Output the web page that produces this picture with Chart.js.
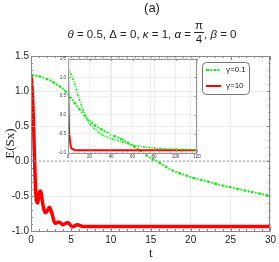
<!DOCTYPE html>
<html><head><meta charset="utf-8">
<script src="https://cdn.jsdelivr.net/npm/chart.js@4/dist/chart.umd.min.js"></script>
<style>
html,body{margin:0;padding:0;background:#fff;}
#wrap{position:relative;width:279px;height:262px;overflow:hidden;}
#main{position:absolute;left:0;top:0;}
#inset{position:absolute;left:50px;top:50px;}
</style></head><body>
<div id="wrap">
<canvas id="main" width="279" height="262"></canvas>
<canvas id="inset" width="155" height="115"></canvas>
</div>
<script>
// ---- data ----
const seriesLabels = ['γ=0.1', 'γ=10'];
const mainXTicks = [0, 5, 10, 15, 20, 25, 30];
const mainYTicks = [-1.0, -0.5, 0.0, 0.5, 1.0, 1.5];
const insetXTicks = [0, 20, 40, 60, 80, 100, 120];
const insetYTicks = [-1.0, -0.5, 0.0, 0.5, 1.0, 1.5];

const greenT = [0,1,2,3,4,5,6,7,8,9,10,11,12,13,14,15,16,17,18,19,20,22,24,26,28,30];
const greenE = [1.23,1.21,1.17,1.11,1.03,0.9,0.75,0.61,0.51,0.44,0.38,0.33,0.27,0.2,0.12,0.04,-0.02,-0.09,-0.15,-0.19,-0.23,-0.29,-0.35,-0.4,-0.45,-0.5];
const redT = [0,0.2,0.4,0.55,0.7,0.85,1.0,1.2,1.45,1.75,2.0,2.3,2.6,3.0,3.5,4.0,4.6,5.2,5.8,6.5,8,30];
const redE = [1.23,0.9,0.2,-0.35,-0.58,-0.6,-0.47,-0.43,-0.6,-0.74,-0.72,-0.66,-0.74,-0.89,-0.87,-0.91,-0.88,-0.94,-0.91,-0.935,-0.935,-0.935];
const zeroT = [0, 30];
const zeroE = [0, 0];

const insetGreenT = [0,5,10,15,20,25,30,40,50,60,70,80,90,100,110,120];
const insetGreenE = [1.23,0.93,0.45,0.06,-0.23,-0.38,-0.5,-0.63,-0.72,-0.8,-0.85,-0.88,-0.9,-0.91,-0.92,-0.93];
const insetRedT = [0,0.5,1,1.5,2,3,4,6,8,120];
const insetRedE = [1.23,0.2,-0.45,-0.6,-0.72,-0.88,-0.9,-0.93,-0.94,-0.94];

// ---- helpers ----
const pts = (xs, ys) => xs.map((x, i) => ({x, y: ys[i]}));
const GREEN = '#10ee10', RED = '#ff0000';
const SANS = '"Liberation Sans", Arial, sans-serif';
const SERIF = '"Liberation Serif", "Times New Roman", serif';

function framePlugin(xMinor, yMinor, majLen, minLen, color) {
  return {
    id: 'frame',
    afterDraw(chart) {
      const {ctx, chartArea: a, scales: {x, y}} = chart;
      ctx.save();
      ctx.strokeStyle = color; ctx.lineWidth = 1;
      ctx.strokeRect(Math.round(a.left) + 0.5, Math.round(a.top) + 0.5,
                     Math.round(a.right - a.left) - 1, Math.round(a.bottom - a.top));
      ctx.beginPath();
      for (let v = x.min; v <= x.max + 1e-9; v += xMinor) {
        const px = Math.round(x.getPixelForValue(v)) + 0.5;
        const maj = x.ticks.some(t => Math.abs(t.value - v) < 1e-6);
        const L = maj ? majLen : minLen;
        ctx.moveTo(px, a.bottom); ctx.lineTo(px, a.bottom - L);
        ctx.moveTo(px, a.top); ctx.lineTo(px, a.top + L);
      }
      for (let v = y.min; v <= y.max + 1e-9; v += yMinor) {
        const py = Math.round(y.getPixelForValue(v)) + 0.5;
        const maj = y.ticks.some(t => Math.abs(t.value - v) < 1e-6);
        const L = maj ? majLen : minLen;
        ctx.moveTo(a.left, py); ctx.lineTo(a.left + L, py);
        ctx.moveTo(a.right, py); ctx.lineTo(a.right - L, py);
      }
      ctx.stroke();
      ctx.restore();
    }
  };
}

const mainDecor = {
  id: 'mainDecor',
  beforeDraw(chart) {
    const ctx = chart.ctx;
    ctx.save(); ctx.fillStyle = '#fff'; ctx.fillRect(0, 0, chart.width, chart.height); ctx.restore();
  },
  afterDraw(chart) {
    const ctx = chart.ctx;
    ctx.save();
    ctx.fillStyle = '#222';
    ctx.textAlign = 'center'; ctx.textBaseline = 'alphabetic';
    ctx.font = '13px ' + SANS;
    ctx.fillText('(a)', 152, 12);
    // subtitle with fraction
    const fs = 11.5;
    const up = fs + 'px ' + SANS, it = 'italic ' + fs + 'px ' + SANS;
    const segs = [['θ', it], [' = 0.5, ', up], ['Δ', up], [' = 0, ', up], ['κ', it], [' = 1, ', up],
                  ['α', it], [' = ', up], ['FRAC', up], [', ', up], ['β', it], [' = 0', up]];
    let total = 0;
    const widths = segs.map(([t, f]) => {
      ctx.font = f;
      const w = t === 'FRAC' ? ctx.measureText('π').width + 2 : ctx.measureText(t).width;
      total += w; return w;
    });
    let x = 152 - total / 2;
    const base = 37.5;
    ctx.textAlign = 'left';
    segs.forEach(([t, f], i) => {
      ctx.font = f;
      if (t === 'FRAC') {
        const w = widths[i];
        ctx.textAlign = 'center';
        ctx.fillText('π', x + w / 2, 29);
        ctx.fillText('4', x + w / 2, 43);
        ctx.fillRect(x, 32, w, 1);
        ctx.textAlign = 'left';
      } else {
        ctx.fillText(t, x, base);
      }
      x += widths[i];
    });
    // legend
    const bx = 202.5, by = 62.5, bw = 47, bh = 32;
    ctx.beginPath();
    ctx.roundRect(bx, by, bw, bh, 4);
    ctx.fillStyle = '#fff'; ctx.fill();
    ctx.strokeStyle = '#777'; ctx.lineWidth = 1; ctx.stroke();
    ctx.lineWidth = 2;
    ctx.strokeStyle = GREEN; ctx.setLineDash([3, 1.5, 1.5, 1.5]);
    ctx.beginPath(); ctx.moveTo(206, 70); ctx.lineTo(221, 70); ctx.stroke();
    ctx.setLineDash([]);
    ctx.strokeStyle = RED;
    ctx.beginPath(); ctx.moveTo(206, 86); ctx.lineTo(221, 86); ctx.stroke();
    ctx.fillStyle = '#222'; ctx.font = '8px ' + SANS; ctx.textBaseline = 'middle';
    ctx.fillText(seriesLabels[0], 226, 70);
    ctx.fillText(seriesLabels[1], 226, 86);
    ctx.restore();
  }
};

new Chart(document.getElementById('main'), {
  type: 'line',
  data: {
    datasets: [
      {label: 'zero', data: pts(zeroT, zeroE), borderColor: '#999', borderWidth: 1, borderDash: [2, 2], pointRadius: 0},
      {label: seriesLabels[0], data: pts(greenT, greenE), borderColor: GREEN, borderWidth: 2.2,
       borderDash: [3, 1.5, 1.5, 1.5], pointRadius: 0, cubicInterpolationMode: 'monotone'},
      {label: seriesLabels[1], data: pts(redT, redE), borderColor: RED, borderWidth: 3.5,
       pointRadius: 0, cubicInterpolationMode: 'monotone'}
    ]
  },
  options: {
    responsive: false, animation: false, devicePixelRatio: 1,
    layout: {padding: {top: 56, right: 5, left: 0, bottom: 0}},
    plugins: {legend: {display: false}, tooltip: {enabled: false}},
    scales: {
      x: {
        type: 'linear', min: 0, max: 30,
        afterBuildTicks: s => { s.ticks = mainXTicks.map(v => ({value: v})); },
        afterFit: s => { s.height = 31; },
        grid: {color: '#ececec', drawTicks: false}, border: {display: false},
        ticks: {font: {family: SANS, size: 10}, color: '#222', padding: 3, maxRotation: 0},
        title: {display: true, text: 't', font: {family: SERIF, size: 13}, color: '#222', padding: {top: 0, bottom: 1}}
      },
      y: {
        type: 'linear', min: -1, max: 1.5,
        afterBuildTicks: s => { s.ticks = mainYTicks.map(v => ({value: v})); },
        afterFit: s => { s.width = 31; },
        grid: {color: '#ececec', drawTicks: false}, border: {display: false},
        ticks: {font: {family: SANS, size: 10}, color: '#222', padding: 2, callback: v => v.toFixed(1)},
        title: {display: true, text: 'E(Sx)', font: {family: SERIF, size: 13}, color: '#222', padding: {top: 3, bottom: 0}}
      }
    }
  },
  plugins: [mainDecor, framePlugin(1, 0.1, 4, 2, '#888')]
});

new Chart(document.getElementById('inset'), {
  type: 'line',
  data: {
    datasets: [
      {label: seriesLabels[0], data: pts(insetGreenT, insetGreenE), borderColor: GREEN, borderWidth: 1.6,
       borderDash: [2, 1.2, 1, 1.2], pointRadius: 0, cubicInterpolationMode: 'monotone'},
      {label: seriesLabels[1], data: pts(insetRedT, insetRedE), borderColor: RED, borderWidth: 2,
       pointRadius: 0, cubicInterpolationMode: 'monotone'}
    ]
  },
  options: {
    responsive: false, animation: false, devicePixelRatio: 1,
    layout: {padding: {top: 8.5, right: 8, left: 0, bottom: 0}},
    plugins: {legend: {display: false}, tooltip: {enabled: false}},
    scales: {
      x: {
        type: 'linear', min: 0, max: 120,
        afterBuildTicks: s => { s.ticks = insetXTicks.map(v => ({value: v})); },
        afterFit: s => { s.height = 12.5; },
        grid: {color: '#eeeeee', drawTicks: false}, border: {display: false},
        ticks: {font: {family: SANS, size: 4.5}, color: '#333', padding: 2, maxRotation: 0}
      },
      y: {
        type: 'linear', min: -1, max: 1.5,
        afterBuildTicks: s => { s.ticks = insetYTicks.map(v => ({value: v})); },
        afterFit: s => { s.width = 18; },
        grid: {color: '#eeeeee', drawTicks: false}, border: {display: false},
        ticks: {font: {family: SANS, size: 4.5}, color: '#333', padding: 2, callback: v => v.toFixed(1)}
      }
    }
  },
  plugins: [framePlugin(5, 0.1, 2.5, 1.2, '#999')]
});
</script>
</body></html>
